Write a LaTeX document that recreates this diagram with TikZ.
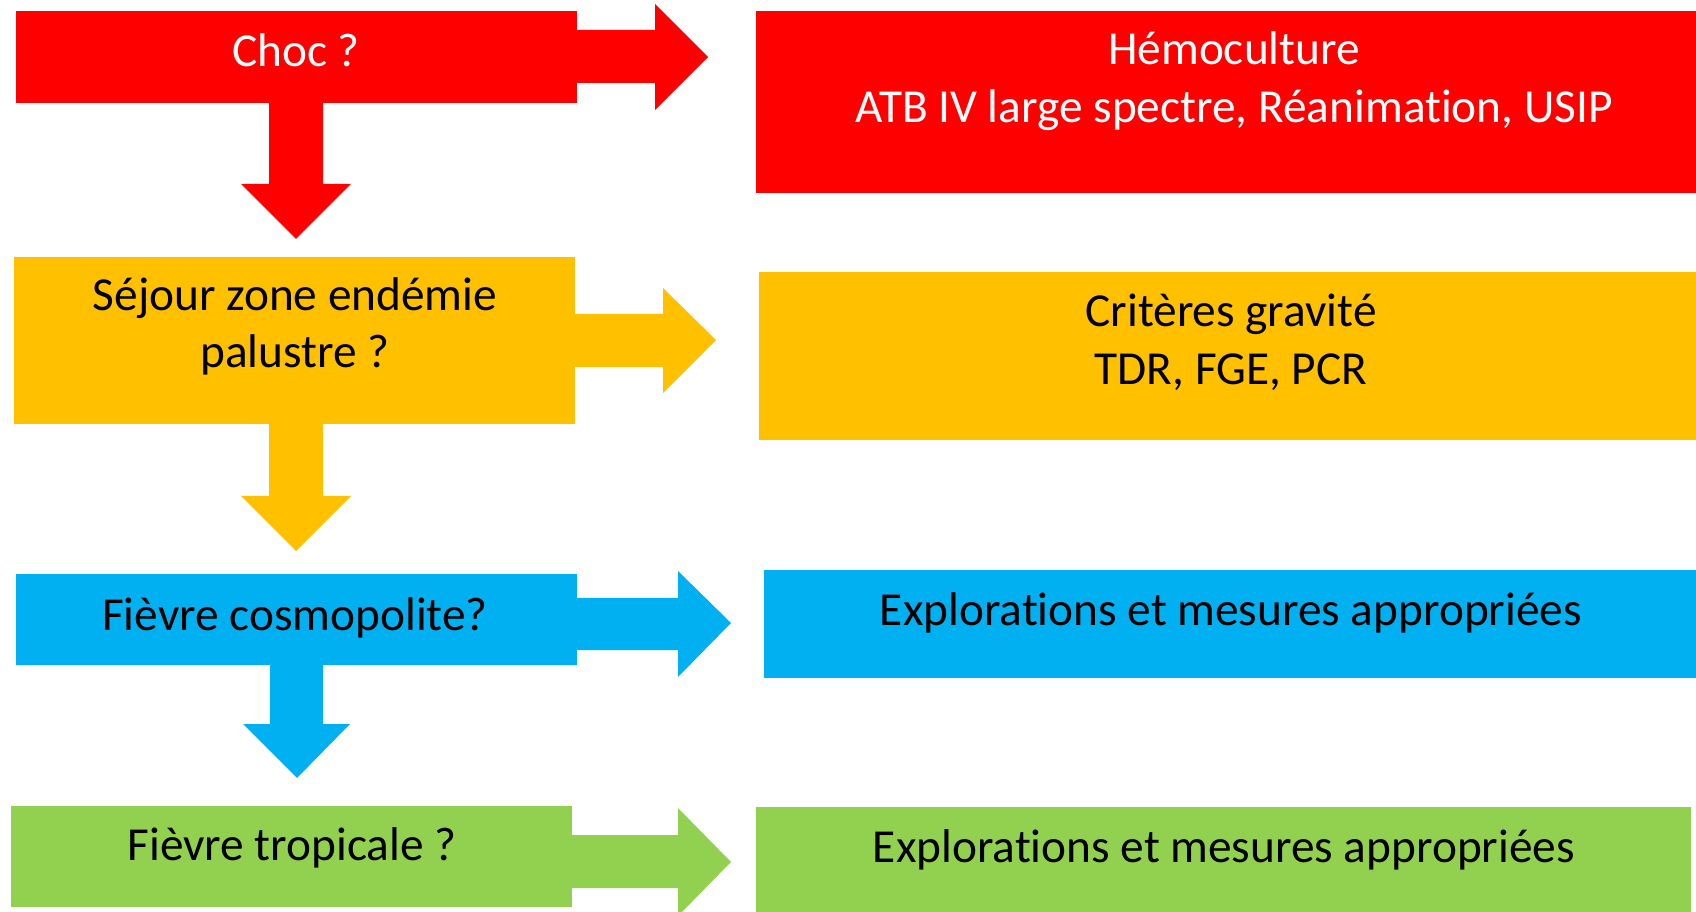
\documentclass[tikz,border=0pt]{standalone}
\usepackage{fontspec}
\setmainfont[Ligatures=NoCommon]{Carlito}
\definecolor{cred}{HTML}{FF0000}
\definecolor{cyel}{HTML}{FFC000}
\definecolor{cblue}{HTML}{00B0F0}
\definecolor{cgreen}{HTML}{92D050}
\tikzset{
  txt/.style={anchor=base, inner sep=0pt, font=\fontsize{35.5}{42}\selectfont},
  wtxt/.style={txt, text=white},
  btxt/.style={txt, text=black},
}
\begin{document}
\begin{tikzpicture}[x=0.75pt, y=-0.75pt]
\useasboundingbox (0,0) rectangle (1696,912);
\clip (0,0) rectangle (1696,912);
% boxes
\fill[cred] (16,11) rectangle (577,103);
\fill[cred] (756,11) rectangle (1696,193);
\fill[cyel] (14,257) rectangle (575,424);
\fill[cyel] (759,272) rectangle (1696,440);
\fill[cblue] (16,574) rectangle (577,665);
\fill[cblue] (764,570) rectangle (1696,678);
\fill[cgreen] (11,806) rectangle (572,907);
\fill[cgreen] (756,807) rectangle (1691,912);
% right block arrows
\fill[cred] (576,30) -- (655,30) -- (655,4) -- (708,57) -- (655,110) -- (655,83) -- (576,83) -- cycle;
\fill[cyel] (574,314) -- (663,314) -- (663,288) -- (716,340) -- (663,393) -- (663,367) -- (574,367) -- cycle;
\fill[cblue] (576,598) -- (678,598) -- (678,571) -- (731,623) -- (678,677) -- (678,650) -- (576,650) -- cycle;
\fill[cgreen] (571,835) -- (678,835) -- (678,808) -- (731,862) -- (678,916) -- (678,888) -- (571,888) -- cycle;
% down block arrows
\fill[cred] (269,102) -- (323,102) -- (323,184) -- (351,184) -- (296,239) -- (241,184) -- (269,184) -- cycle;
\fill[cyel] (269,423) -- (323,423) -- (323,496) -- (351,496) -- (296,551) -- (241,496) -- (269,496) -- cycle;
\fill[cblue] (270,664) -- (323,664) -- (323,724) -- (350,724) -- (297,778) -- (243,724) -- (270,724) -- cycle;
% texts
\node[wtxt] (t1) at (296,67) {Choc ?};
\node[btxt] (t2a) at (295,311) {Séjour zone endémie};
\node[btxt] (t2b) at (295,368) {palustre ?};
\node[btxt] (t3) at (295,630) {Fièvre cosmopolite?};
\node[btxt] (t4) at (292,860) {Fièvre tropicale ?};
\node[wtxt] (r1a) at (1234,65) {Hémoculture};
\node[wtxt] (r1b) at (1234,123) {ATB IV large spectre, Réanimation, USIP};
\node[btxt] (r2a) at (1231,327) {Critères gravité};
\node[btxt] (r2b) at (1231,385) {TDR, FGE, PCR};
\node[btxt] (r3) at (1231,625) {Explorations et mesures appropriées};
\node[btxt] (r4) at (1224,862) {Explorations et mesures appropriées};
\end{tikzpicture}
\end{document}
